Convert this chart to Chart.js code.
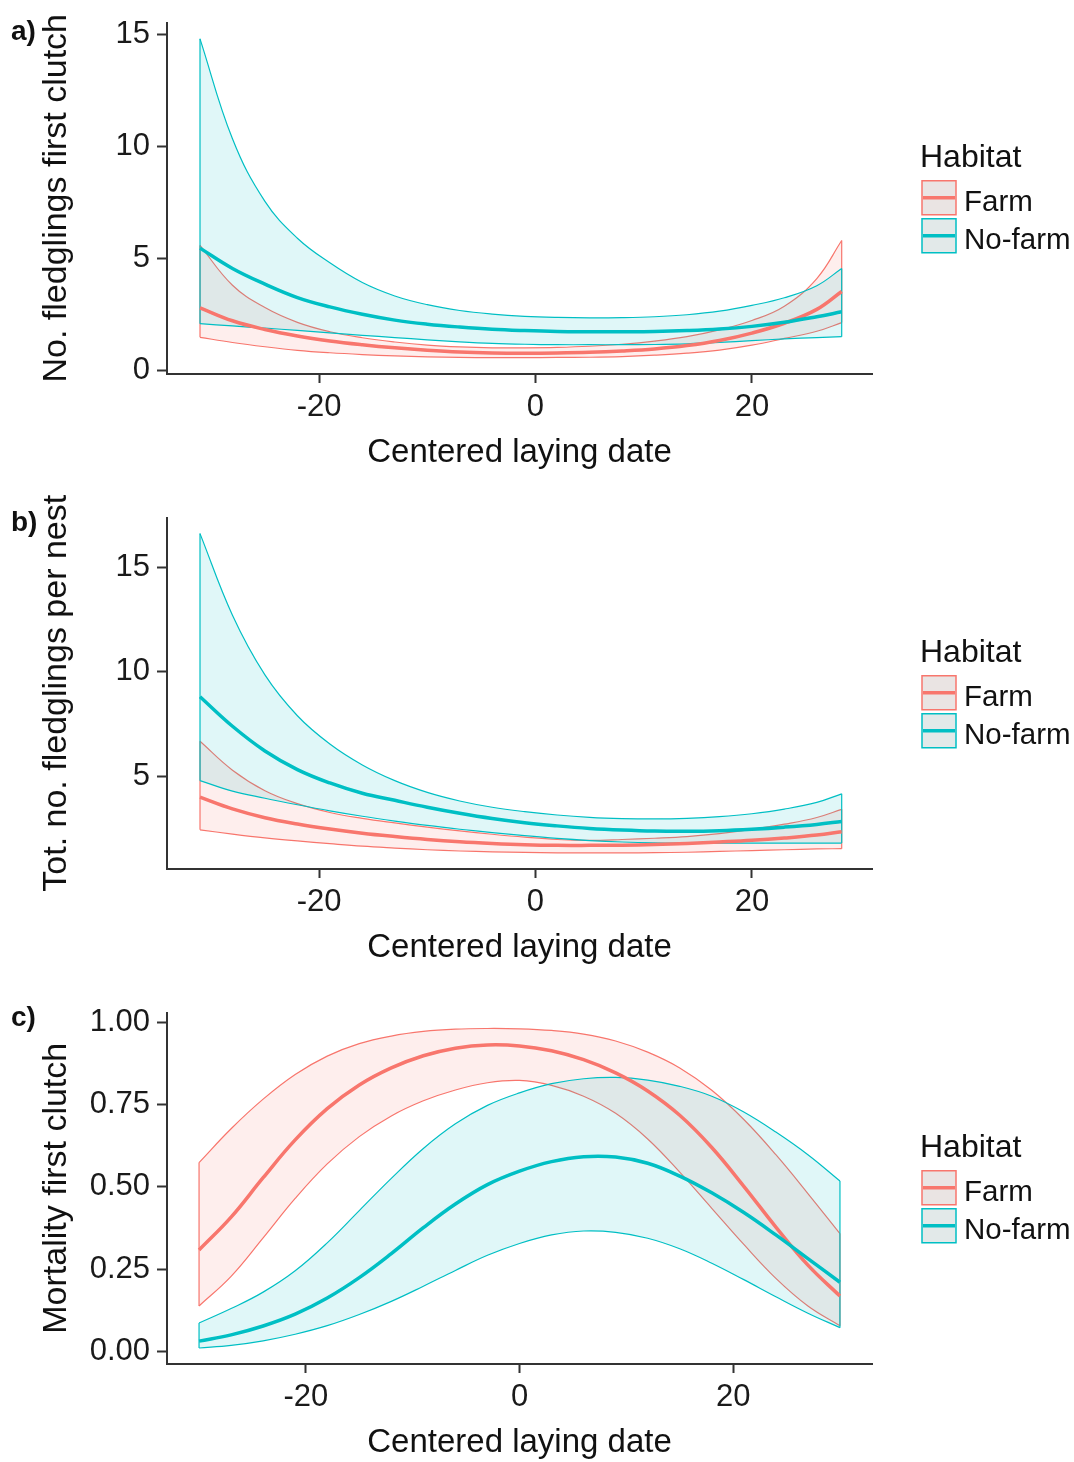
<!DOCTYPE html>
<html lang="en">
<head>
<meta charset="UTF-8">
<title>Fledglings and mortality by laying date</title>
<script src="https://cdn.jsdelivr.net/npm/chart.js"></script>
<style>
  html, body { margin: 0; padding: 0; background: #fff; overflow: hidden; }
  #page { position: relative; width: 1074px; height: 1462px; overflow: hidden; }
  canvas { position: absolute; left: 0; }
</style>
</head>
<body>
<div id="page">
  <canvas id="chartA" width="1074" height="490" style="top:0"></canvas>
  <canvas id="chartB" width="1074" height="490" style="top:495px"></canvas>
  <canvas id="chartC" width="1074" height="473" style="top:990px"></canvas>
</div>
<script>
// ---- data ----
const habitats = ['Farm', 'No-farm'];

// panels a) and b) share the same laying dates
const xAB = [-31, -28, -25, -22, -19, -16, -13, -10, -7, -4, -1, 2, 5, 8, 11, 14, 17, 20, 23, 26, 28.3];
const xC = [-30, -27, -24, -21, -18, -15, -12, -9, -6, -3, 0, 3, 6, 9, 12, 15, 18, 21, 24, 27, 30];

const xTicks = [-20, 0, 20];
const yTicksA = [0, 5, 10, 15];
const yTicksB = [5, 10, 15];
const yTicksC = [0, 0.25, 0.5, 0.75, 1];

// a) No. fledglings first clutch
const aFarmFit = [2.79, 2.21, 1.82, 1.53, 1.31, 1.14, 1.00, 0.89, 0.81, 0.77, 0.76, 0.77, 0.80, 0.86, 0.95, 1.10, 1.33, 1.66, 2.10, 2.72, 3.52];
const aFarmLo  = [1.47, 1.24, 1.05, 0.89, 0.78, 0.70, 0.64, 0.60, 0.57, 0.56, 0.56, 0.57, 0.58, 0.61, 0.67, 0.76, 0.90, 1.12, 1.42, 1.74, 2.13];
const aFarmHi  = [5.58, 3.80, 2.80, 2.14, 1.72, 1.45, 1.26, 1.12, 1.04, 1.00, 1.00, 1.02, 1.07, 1.16, 1.30, 1.50, 1.80, 2.22, 2.86, 4.10, 5.80];
const aNoFit   = [5.46, 4.55, 3.85, 3.25, 2.83, 2.50, 2.24, 2.06, 1.93, 1.83, 1.77, 1.73, 1.72, 1.72, 1.73, 1.77, 1.84, 1.96, 2.14, 2.39, 2.61];
const aNoLo    = [2.08, 1.98, 1.88, 1.78, 1.67, 1.56, 1.46, 1.36, 1.27, 1.20, 1.16, 1.14, 1.14, 1.14, 1.15, 1.18, 1.24, 1.32, 1.40, 1.46, 1.50];
const aNoHi    = [14.82, 10.35, 7.55, 5.90, 4.80, 3.92, 3.32, 2.93, 2.67, 2.51, 2.41, 2.36, 2.34, 2.35, 2.39, 2.48, 2.64, 2.90, 3.24, 3.78, 4.55];

// b) Tot. no. fledglings per nest
const bFarmFit = [4.01, 3.45, 3.03, 2.73, 2.49, 2.29, 2.13, 1.99, 1.88, 1.80, 1.74, 1.71, 1.71, 1.72, 1.75, 1.80, 1.87, 1.95, 2.06, 2.20, 2.36];
const bFarmLo  = [2.45, 2.25, 2.07, 1.92, 1.79, 1.67, 1.58, 1.50, 1.44, 1.40, 1.37, 1.35, 1.35, 1.35, 1.36, 1.38, 1.42, 1.46, 1.50, 1.54, 1.55];
const bFarmHi  = [6.68, 5.30, 4.32, 3.70, 3.28, 3.00, 2.78, 2.58, 2.40, 2.24, 2.10, 1.99, 1.95, 1.99, 2.05, 2.13, 2.27, 2.47, 2.72, 3.04, 3.43];
const bNoFit   = [8.81, 7.40, 6.22, 5.33, 4.69, 4.20, 3.86, 3.53, 3.24, 2.99, 2.79, 2.64, 2.52, 2.44, 2.39, 2.38, 2.41, 2.48, 2.58, 2.71, 2.85];
const bNoLo    = [4.80, 4.30, 3.96, 3.65, 3.36, 3.10, 2.87, 2.66, 2.48, 2.32, 2.17, 2.04, 1.94, 1.87, 1.83, 1.82, 1.82, 1.82, 1.82, 1.82, 1.82];
const bNoHi    = [16.6, 12.7, 9.85, 7.90, 6.55, 5.55, 4.80, 4.24, 3.83, 3.53, 3.32, 3.16, 3.05, 2.99, 2.97, 3.00, 3.08, 3.22, 3.44, 3.76, 4.17];

// c) Mortality first clutch
const cFarmFit = [0.308, 0.408, 0.528, 0.643, 0.738, 0.810, 0.862, 0.899, 0.922, 0.932, 0.929, 0.914, 0.887, 0.847, 0.792, 0.718, 0.620, 0.502, 0.378, 0.262, 0.168];
const cFarmLo  = [0.138, 0.228, 0.345, 0.465, 0.570, 0.653, 0.716, 0.762, 0.795, 0.817, 0.824, 0.809, 0.776, 0.724, 0.646, 0.545, 0.435, 0.325, 0.222, 0.138, 0.078];
const cFarmHi  = [0.574, 0.677, 0.767, 0.842, 0.898, 0.936, 0.959, 0.973, 0.980, 0.982, 0.981, 0.976, 0.965, 0.944, 0.910, 0.862, 0.794, 0.705, 0.598, 0.480, 0.358];
const cNoFit   = [0.031, 0.050, 0.077, 0.113, 0.162, 0.224, 0.297, 0.376, 0.448, 0.507, 0.548, 0.577, 0.592, 0.591, 0.572, 0.533, 0.482, 0.422, 0.354, 0.282, 0.210];
const cNoLo    = [0.010, 0.018, 0.032, 0.052, 0.078, 0.112, 0.152, 0.198, 0.246, 0.292, 0.328, 0.354, 0.366, 0.362, 0.344, 0.312, 0.268, 0.218, 0.166, 0.116, 0.072];
const cNoHi    = [0.086, 0.130, 0.180, 0.245, 0.330, 0.428, 0.526, 0.617, 0.692, 0.748, 0.786, 0.814, 0.829, 0.833, 0.825, 0.806, 0.776, 0.728, 0.667, 0.598, 0.518];

// ---- styling ----
const FONT = "'Liberation Sans', Arial, sans-serif";
const farmCol = '#F8766D', noCol = '#00BFC4';
const farmFill = 'rgba(248,118,109,0.12)', noFill = 'rgba(0,191,196,0.12)';
const keyFills = ['rgb(234,228,227)', 'rgb(226,233,233)'];
const SMOOTH = 0.4;

function pts(xs, ys) {
    return xs.map((x, i) => ({ x: x, y: ys[i] }));
}

function fitLine(xs, ys, col) {
    return { data: pts(xs, ys), borderColor: col, borderWidth: 3.5, fill: false, tension: SMOOTH };
}

// upper edge filled down to lower edge, plus the two closing ends of the ribbon
function ribbon(xs, lo, hi, col, fillCol) {
    const n = xs.length - 1;
    const thin = { borderColor: col, borderWidth: 1.2, fill: false };
    return [
        Object.assign({}, thin, { data: pts(xs, hi), fill: '+1', backgroundColor: fillCol, tension: SMOOTH }),
        Object.assign({}, thin, { data: pts(xs, lo), tension: SMOOTH }),
        Object.assign({}, thin, { data: [{ x: xs[0], y: lo[0] }, { x: xs[0], y: hi[0] }], tension: 0 }),
        Object.assign({}, thin, { data: [{ x: xs[n], y: lo[n] }, { x: xs[n], y: hi[n] }], tension: 0 })
    ];
}

function axis(isX, min, max, ticks, title, fmt) {
    return {
        type: 'linear',
        min: min,
        max: max,
        afterBuildTicks: s => { s.ticks = ticks.map(v => ({ value: v })); },
        afterFit: s => { if (isX) s.height = 99; else s.width = 167; },
        ticks: {
            color: '#1a1a1a',
            font: { family: FONT, size: 31, lineHeight: 1 },
            padding: isX ? 9 : 7,
            maxRotation: 0,
            autoSkip: false,
            callback: v => fmt(v)
        },
        grid: { drawOnChartArea: false, drawTicks: true, tickLength: isX ? 9 : 10, tickColor: '#333', tickWidth: 2 },
        border: { display: true, color: '#333', width: 2 },
        title: {
            display: true,
            text: title,
            color: '#111',
            font: { family: FONT, size: isX ? 33 : 34 },
            padding: isX ? { top: 0, bottom: 0 } : { top: 36, bottom: 0 }
        }
    };
}

// panel tag and the "Habitat" key, placed next to the plot area
function habitatLegend(tag, tagY) {
    return {
        id: 'habitatLegend',
        afterDraw(chart) {
            const ctx = chart.ctx;
            const area = chart.chartArea;
            const cy = (area.top + area.bottom) / 2;
            const lx = area.right + 50;
            const cols = [farmCol, noCol];
            ctx.save();
            ctx.textBaseline = 'alphabetic';
            ctx.fillStyle = '#111';
            ctx.font = 'bold 28px ' + FONT;
            ctx.fillText(tag, 11, tagY);
            ctx.font = '32px ' + FONT;
            ctx.fillText('Habitat', lx - 2, cy - 31);
            habitats.forEach((h, i) => {
                const top = cy - 17.5 + i * 38;
                ctx.fillStyle = keyFills[i];
                ctx.fillRect(lx, top, 34, 34);
                ctx.strokeStyle = cols[i];
                ctx.lineWidth = 1.5;
                ctx.strokeRect(lx, top, 34, 34);
                ctx.lineWidth = 3.5;
                ctx.beginPath();
                ctx.moveTo(lx + 1, top + 17);
                ctx.lineTo(lx + 33, top + 17);
                ctx.stroke();
                ctx.fillStyle = '#111';
                ctx.font = '29.5px ' + FONT;
                ctx.fillText(h, lx + 42, top + 30);
            });
            ctx.restore();
        }
    };
}

function makeChart(id, p) {
    const datasets = [
        fitLine(p.xs, p.noFit, noCol),
        fitLine(p.xs, p.farmFit, farmCol)
    ].concat(
        ribbon(p.xs, p.noLo, p.noHi, noCol, noFill),
        ribbon(p.xs, p.farmLo, p.farmHi, farmCol, farmFill)
    );
    return new Chart(document.getElementById(id), {
        type: 'line',
        data: { datasets: datasets },
        options: {
            responsive: false,
            animation: false,
            devicePixelRatio: 1,
            layout: { padding: { left: 0, right: 202, top: 17, bottom: p.padBottom } },
            elements: { point: { radius: 0 } },
            plugins: { legend: { display: false }, tooltip: { enabled: false } },
            scales: {
                x: axis(true, p.xMin, p.xMax, xTicks, 'Centered laying date', v => String(v)),
                y: axis(false, p.yMin, p.yMax, p.yTicks, p.yTitle, p.fmt)
            }
        },
        plugins: [habitatLegend(p.tag, p.tagY)]
    });
}

makeChart('chartA', {
    xs: xAB, farmFit: aFarmFit, farmLo: aFarmLo, farmHi: aFarmHi, noFit: aNoFit, noLo: aNoLo, noHi: aNoHi,
    xMin: -34.05, xMax: 31.1, yMin: -0.17, yMax: 15.55, yTicks: yTicksA,
    yTitle: 'No. fledglings first clutch', fmt: v => String(v), tag: 'a)', tagY: 40, padBottom: 17
});

makeChart('chartB', {
    xs: xAB, farmFit: bFarmFit, farmLo: bFarmLo, farmHi: bFarmHi, noFit: bNoFit, noLo: bNoLo, noHi: bNoHi,
    xMin: -34.05, xMax: 31.1, yMin: 0.58, yMax: 17.37, yTicks: yTicksB,
    yTitle: 'Tot. no. fledglings per nest', fmt: v => String(v), tag: 'b)', tagY: 36, padBottom: 17
});

makeChart('chartC', {
    xs: xC, farmFit: cFarmFit, farmLo: cFarmLo, farmHi: cFarmHi, noFit: cNoFit, noLo: cNoLo, noHi: cNoHi,
    xMin: -33, xMax: 33, yMin: -0.0386, yMax: 1.0306, yTicks: yTicksC,
    yTitle: 'Mortality first clutch', fmt: v => v.toFixed(2), tag: 'c)', tagY: 36, padBottom: 0
});
</script>
</body>
</html>
